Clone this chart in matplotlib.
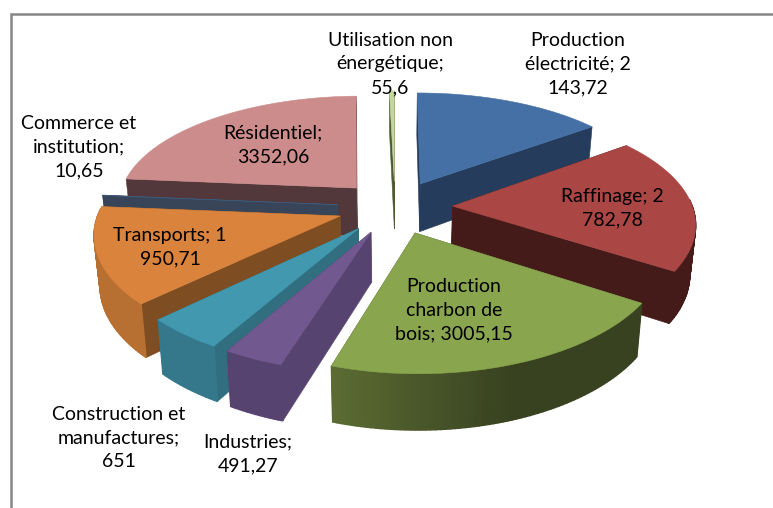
import numpy as np
import matplotlib
matplotlib.use("Agg")
import matplotlib.pyplot as plt
from matplotlib.colors import to_rgb

# values as printed on the slices, clockwise from the top
categories = ["Production électricité", "Raffinage", "Production charbon de bois",
              "Industries", "Construction et manufactures", "Transports",
              "Commerce et institution", "Résidentiel", "Utilisation non énergétique"]
values = [2143.72, 2782.78, 3005.15, 491.27, 651, 1950.71, 10.65, 3352.06, 55.6]

top_colors = ["#4470A5", "#AA4643", "#89A54E", "#71588F", "#4198AF",
              "#DA833C", "#3F5878", "#CD8C8C", "#C3D69B"]
cut_colors = ["#253C5C", "#451B19", "#4A5629", "#574370", "#306E80",
              "#7E4D22", "#384558", "#52383A", "#4F5A30"]
arc_left_colors = ["#253C5C", "#451B19", "#5C6C33", "#574370", "#35788C",
                   "#B87032", "#384558", "#52383A", "#4F5A30"]
arc_mid_colors = ["#253C5C", "#451B19", "#384220", "#574370", "#35788C",
                  "#B87032", "#384558", "#52383A", "#4F5A30"]

# slice draw order, back to front
draw_order = [7, 6, 8, 0, 1, 5, 4, 3, 2]

labels = [
    ("Production\nélectricité; 2\n143,72", 578, 64),
    ("Raffinage; 2\n782,78", 612, 208),
    ("Production\ncharbon de\nbois; 3005,15", 454, 310),
    ("Industries;\n491,27", 248, 454),
    ("Construction et\nmanufactures;\n651", 119, 438),
    ("Transports; 1\n950,71", 170, 247),
    ("Commerce et\ninstitution;\n10,65", 79, 147),
    ("Résidentiel;\n3352,06", 273, 145),
    ("Utilisation non\nénergétique;\n55,6", 390, 64),
]

CX, CY = 395, 207
A, B = 240, 111
KX, KY = 0.135, 0.15
EXPLODE = 0.24


def project(u, v):
    x = CX + A * u / (1 + KX * v)
    y = CY - B * v / (1 + KY * v)
    return x, y


def drop(u, v):
    # same plane point on the underside of the slab
    x, y = project(u, v)
    return CX + (x - CX) * 0.98, y + 49 - 6 * v


def mix(c1, c2, t):
    a, b = np.array(to_rgb(c1)), np.array(to_rgb(c2))
    return tuple(a + (b - a) * t)


def draw_slice(ax, start, stop, top, cut, arc_l, arc_m):
    mid = (start + stop) / 2
    u0, v0 = EXPLODE * np.sin(mid), EXPLODE * np.cos(mid)
    th = np.linspace(start, stop, max(int(np.degrees(stop - start)), 2) + 1)
    us = u0 + np.sin(th)
    vs = v0 + np.cos(th)

    # the two cut faces
    for u, v in ((us[0], vs[0]), (us[-1], vs[-1])):
        x1, y1 = project(u0, v0)
        x2, y2 = project(u, v)
        x3, y3 = drop(u, v)
        x4, y4 = drop(u0, v0)
        ax.fill([x1, x2, x3, x4], [y1, y2, y3, y4], color=cut, lw=0.4)

    # outer rim, shaded segment by segment, front side only
    for i in range(len(th) - 1):
        if np.cos(th[i]) > 0.05 and np.cos(th[i + 1]) > 0.05:
            continue
        x1, y1 = project(us[i], vs[i])
        x2, y2 = project(us[i + 1], vs[i + 1])
        x3, y3 = drop(us[i + 1], vs[i + 1])
        x4, y4 = drop(us[i], vs[i])
        t = min(max(x1 - 333, 0) / 180, 1)
        col = mix(arc_l, arc_m, t)
        ax.fill([x1, x2, x3, x4], [y1, y2, y3, y4], color=col, lw=1.0)

    # top face
    px, py = project(np.r_[u0, us], np.r_[v0, vs])
    ax.fill(px, py, color=top, lw=0.4)


fig = plt.figure(figsize=(7.73, 5.08), dpi=100)
ax = fig.add_axes([0, 0, 1, 1])
ax.set_xlim(0, 773)
ax.set_ylim(508, 0)
ax.axis("off")

# chart frame, only top and left are inside the crop
ax.plot([773, 10.5, 10.5], [14, 14, 508], color="#868686", lw=1.8,
        solid_joinstyle="miter")

angles = np.r_[0, np.cumsum(values)] / np.sum(values) * 2 * np.pi
for i in draw_order:
    draw_slice(ax, angles[i], angles[i + 1], top_colors[i], cut_colors[i],
               arc_left_colors[i], arc_mid_colors[i])

for text, x, y in labels:
    ax.text(x, y, text, ha="center", va="center", family="Lato", fontsize=14,
            color="black", linespacing=1.48)

fig.savefig("out.png", dpi=100)
plt.close(fig)
